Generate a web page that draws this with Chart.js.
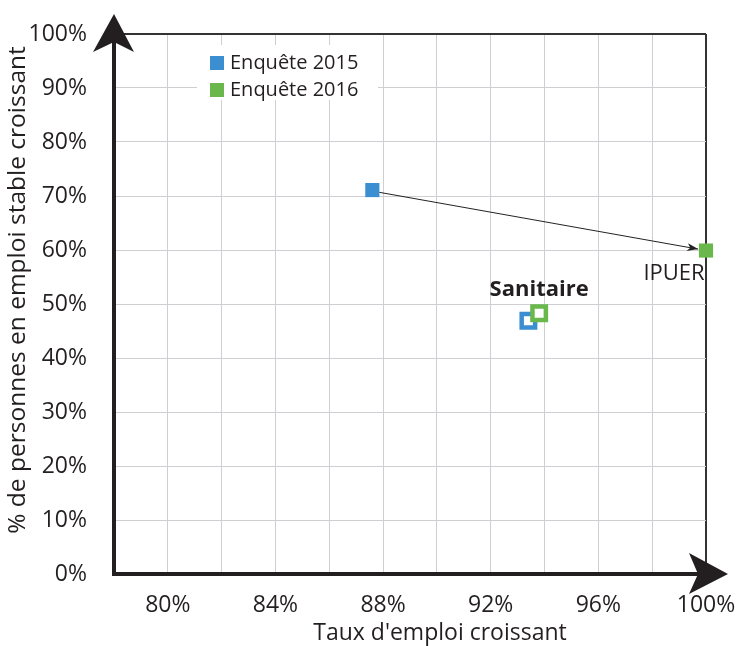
<!DOCTYPE html>
<html>
<head>
<meta charset="utf-8">
<script src="https://cdn.jsdelivr.net/npm/chart.js@4.4.1/dist/chart.umd.min.js"></script>
<style>
  html, body { margin: 0; padding: 0; background: #fff; }
  #wrap { width: 738px; height: 646px; }
</style>
</head>
<body>
<div id="wrap"><canvas id="myChart"></canvas></div>
<script>
// data
const groups = ['IPUER', 'Sanitaire'];
const emploi2015 = [87.6, 93.4];
const stable2015 = [71.1, 46.9];
const emploi2016 = [100, 93.8];
const stable2016 = [59.9, 48.3];
const seriesNames = ['Enquête 2015', 'Enquête 2016'];
const xTitle = "Taux d'emploi croissant";
const yTitle = '% de personnes en emploi stable croissant';

const blue = '#3b8fd1';
const green = '#6ab84c';
const font = "'Open Sans', sans-serif";

function toPoints(xs, ys) {
  return xs.map((x, i) => ({ x: x, y: ys[i] }));
}

// filled square for IPUER, hollow square for Sanitaire
function pointBg(color) {
  return ctx => ctx.dataIndex === 0 ? color : '#fff';
}
function pointBw(ctx) {
  return ctx.dataIndex === 0 ? 0 : 4.5;
}
function pointR(ctx) {
  return ctx.dataIndex === 0 ? 10 : 9.5;
}

const data = {
  datasets: [{
    label: seriesNames[0],
    data: toPoints(emploi2015, stable2015),
    pointStyle: 'rect',
    pointRadius: pointR,
    pointHoverRadius: pointR,
    backgroundColor: pointBg(blue),
    borderColor: blue,
    borderWidth: pointBw,
    clip: false,
    order: 2
  }, {
    label: seriesNames[1],
    data: toPoints(emploi2016, stable2016),
    pointStyle: 'rect',
    pointRadius: pointR,
    pointHoverRadius: pointR,
    backgroundColor: pointBg(green),
    borderColor: green,
    borderWidth: pointBw,
    clip: false,
    order: 1
  }]
};

// axes with arrowheads, move arrow, point labels, legend, axis titles
const decorations = {
  id: 'decorations',
  beforeDatasetsDraw(chart) {
    const c = chart.ctx;
    const a = chart.chartArea;
    // arrow from 2015 to 2016 for the first group
    const p0 = chart.getDatasetMeta(0).data[0];
    const p1 = chart.getDatasetMeta(1).data[0];
    const ang = Math.atan2(p1.y - p0.y, p1.x - p0.x);
    const sx = p0.x + 7 * Math.cos(ang), sy = p0.y + 1 + 7 * Math.sin(ang);
    const ex = p1.x - 8 * Math.cos(ang), ey = p1.y - 8 * Math.sin(ang);
    c.save();
    c.strokeStyle = '#222';
    c.fillStyle = '#222';
    c.lineWidth = 1;
    c.beginPath();
    c.moveTo(sx, sy);
    c.lineTo(ex, ey);
    c.stroke();
    c.translate(ex, ey);
    c.rotate(ang);
    c.beginPath();
    c.moveTo(0, 0);
    c.lineTo(-11, -4);
    c.lineTo(-8, 0);
    c.lineTo(-11, 4);
    c.closePath();
    c.fill();
    c.restore();

    // legend
    c.save();
    const lx = a.left + 83, ly = a.top + 11;
    c.fillStyle = '#fff';
    c.fillRect(lx, ly, 181, 55);
    [blue, green].forEach((col, i) => {
      c.fillStyle = col;
      c.fillRect(lx + 13, ly + 11 + i * 27, 14, 14);
      c.fillStyle = '#231f20';
      c.font = '20px ' + font;
      c.textBaseline = 'middle';
      c.textAlign = 'left';
      c.fillText(seriesNames[i], lx + 33, ly + 18 + i * 27);
    });
    c.restore();
  },
  afterDraw(chart) {
    const c = chart.ctx;
    const a = chart.chartArea;
    c.save();
    c.strokeStyle = '#231f20';
    c.fillStyle = '#231f20';
    c.lineWidth = 4;
    // y axis
    c.beginPath();
    c.moveTo(a.left, a.bottom + 2);
    c.lineTo(a.left, a.top - 8);
    c.stroke();
    c.beginPath();
    c.moveTo(a.left, a.top - 20);
    c.lineTo(a.left + 20, a.top + 18);
    c.lineTo(a.left, a.top + 8);
    c.lineTo(a.left - 21, a.top + 18);
    c.closePath();
    c.fill();
    // x axis
    c.beginPath();
    c.moveTo(a.left - 2, a.bottom);
    c.lineTo(a.right + 8, a.bottom);
    c.stroke();
    c.beginPath();
    c.moveTo(a.right + 22, a.bottom);
    c.lineTo(a.right - 17, a.bottom + 20);
    c.lineTo(a.right - 8, a.bottom);
    c.lineTo(a.right - 17, a.bottom - 21);
    c.closePath();
    c.fill();

    // point labels
    const pI = chart.getDatasetMeta(1).data[0];
    const pS = chart.getDatasetMeta(1).data[1];
    c.textAlign = 'center';
    c.textBaseline = 'middle';
    c.font = '22px ' + font;
    c.fillText(groups[0], pI.x - 32, pI.y + 23);
    c.font = 'bold 22px ' + font;
    c.fillText(groups[1], pS.x, pS.y - 23);

    // axis titles
    c.font = '23px ' + font;
    c.fillText(xTitle, a.left + 326, a.bottom + 59);
    c.font = '24.5px ' + font;
    c.translate(18, (a.top + a.bottom) / 2 - 14);
    c.rotate(-Math.PI / 2);
    c.fillText(yTitle, 0, 0);
    c.restore();
  }
};

const config = {
  type: 'scatter',
  data,
  options: {
    responsive: true,
    maintainAspectRatio: false,
    animation: false,
    layout: { padding: { left: 0, right: 32, top: 34, bottom: 0 } },
    plugins: {
      legend: { display: false },
      tooltip: { enabled: false }
    },
    scales: {
      x: {
        type: 'linear',
        min: 78,
        max: 100,
        afterFit: s => { s.height = 72; s.paddingLeft = 0; s.paddingRight = 0; },
        border: { display: false },
        grid: {
          drawTicks: false,
          color: ctx => ctx.tick && ctx.tick.value === 100 ? '#333' : '#cfcfd3',
          lineWidth: ctx => ctx.tick && ctx.tick.value === 100 ? 2 : 1
        },
        ticks: {
          stepSize: 2,
          autoSkip: false,
          maxRotation: 0,
          padding: 18,
          color: '#231f20',
          font: { family: font, size: 23 },
          callback: v => v % 4 === 0 ? v + '%' : ''
        }
      },
      y: {
        min: 0,
        max: 100,
        afterFit: s => { s.width = 114; s.paddingTop = 0; s.paddingBottom = 0; },
        border: { display: false },
        grid: {
          drawTicks: false,
          color: ctx => ctx.tick && ctx.tick.value === 100 ? '#333' : '#cfcfd3',
          lineWidth: ctx => ctx.tick && ctx.tick.value === 100 ? 2 : 1
        },
        ticks: {
          stepSize: 10,
          padding: 27,
          color: '#231f20',
          font: { family: font, size: 23 },
          callback: v => v + '%'
        }
      }
    }
  },
  plugins: [decorations]
};

const myChart = new Chart(document.getElementById('myChart'), config);
</script>
</body>
</html>
